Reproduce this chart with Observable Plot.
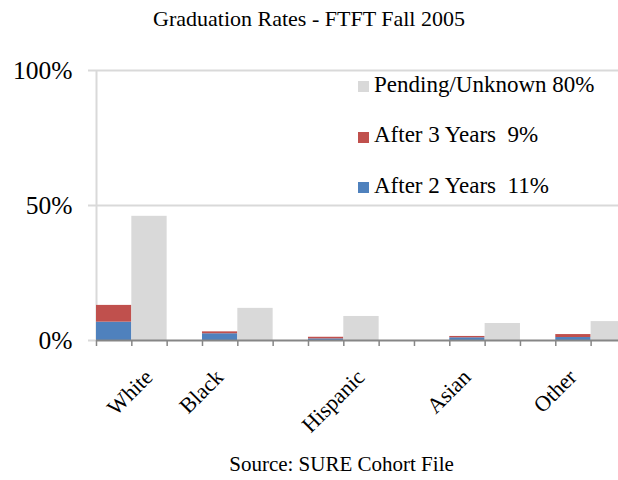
<!DOCTYPE html>
<html>
<head>
<meta charset="utf-8">
<script src="https://cdn.jsdelivr.net/npm/d3@7"></script>
<script src="https://cdn.jsdelivr.net/npm/@observablehq/plot@0.6"></script>
<style>
  html, body { margin: 0; padding: 0; background: #fff; }
  #wrap { position: relative; width: 618px; height: 480px; overflow: hidden; font-family: "Liberation Serif", serif; color: #000; }
  #title { height: 40px; box-sizing: border-box; padding-top: 8px; text-align: center; font-size: 22px; line-height: 22px; }
  #chart { height: 400px; }
  #caption { text-align: center; font-size: 21px; line-height: 21px; margin-top: 14px; padding-left: 65px; }
  .lg-sw { position: absolute; width: 11px; height: 11px; }
  .lg-tx { position: absolute; font-size: 23px; line-height: 23px; white-space: pre; }
</style>
</head>
<body>
<div id="wrap">
  <div id="title">Graduation Rates - FTFT Fall 2005</div>
  <div id="chart"></div>
  <div id="caption">Source: SURE Cohort File</div>
</div>
<script>
// ---- data ----
const categories = ["White", "Black", "Hispanic", "Asian", "Other"];
const after2Years = [6.8, 2.5, 0.6, 1.0, 1.1];
const after3Years = [6.2, 0.7, 0.6, 0.5, 1.1];
const pendingUnknown = [46.0, 11.9, 8.9, 6.3, 7.0];
// category-axis slots (Excel layout with blank categories between groups)
const stackSlots = [0, 3, 6, 10, 13];
const labelSlots = [1, 3, 7, 10, 13];
const slotCount = 15;
const seriesNames = ["Pending/Unknown", "After 3 Years", "After 2 Years"];
const legendLabels = ["Pending/Unknown 80%", "After 3 Years  9%", "After 2 Years  11%"];
const seriesColors = ["#D9D9D9", "#C0504D", "#4F81BD"];
const yTicks = [0, 50, 100];

// ---- table for the bars ----
const bars = categories.flatMap((c, i) => [
  {category: c, series: "After 2 Years", x1: stackSlots[i], x2: stackSlots[i] + 1, y1: 0, y2: after2Years[i]},
  {category: c, series: "After 3 Years", x1: stackSlots[i], x2: stackSlots[i] + 1, y1: after2Years[i], y2: after2Years[i] + after3Years[i]},
  {category: c, series: "Pending/Unknown", x1: stackSlots[i] + 1, x2: stackSlots[i] + 2, y1: 0, y2: pendingUnknown[i]}
]);

const slotWidth = 35.33;
const left = 96;

const chart = Plot.plot({
  width: 618,
  height: 400,
  marginTop: 30,
  marginBottom: 100,
  marginLeft: left,
  marginRight: 0,
  style: {fontFamily: "'Liberation Serif', serif", color: "black", background: "white", overflow: "hidden"},
  x: {type: "linear", domain: [0, slotCount], range: [left, left + slotCount * slotWidth], axis: null},
  y: {domain: [0, 100], axis: null},
  color: {domain: seriesNames, range: seriesColors},
  marks: [
    Plot.ruleY([50, 100], {stroke: "#D9D9D9", strokeWidth: 2}),
    Plot.axisY({ticks: yTicks, tickSize: 8, tickPadding: 16, tickFormat: d => d + "%", stroke: "#D9D9D9", strokeWidth: 2, fill: "black", fontSize: 25.5}),
    Plot.ruleX([0], {y1: 0, y2: 100, stroke: "#D9D9D9", strokeWidth: 2}),
    Plot.rect(bars, {x1: "x1", x2: "x2", y1: "y1", y2: "y2", fill: "series"}),
    Plot.ruleY([0], {stroke: "#868686", strokeWidth: 2}),
    Plot.axisX({ticks: d3.range(slotCount + 1), tickSize: 6, tickFormat: () => "", stroke: "#868686", strokeWidth: 1.5}),
    Plot.text(categories, {
      x: (d, i) => labelSlots[i] + 0.5,
      y: () => 0,
      text: d => d,
      rotate: -45,
      textAnchor: "end",
      dx: -0.5,
      dy: 33,
      fontSize: 22,
      fill: "black"
    })
  ]
});
document.getElementById("chart").appendChild(chart);

// ---- legend (HTML overlay inside the plot area) ----
const wrap = document.getElementById("wrap");
legendLabels.forEach((label, i) => {
  const sw = document.createElement("div");
  sw.className = "lg-sw";
  sw.style.left = "358px";
  sw.style.top = (81 + 50.5 * i) + "px";
  sw.style.background = seriesColors[i];
  wrap.appendChild(sw);
  const tx = document.createElement("div");
  tx.className = "lg-tx";
  tx.style.left = "374px";
  tx.style.top = (72.7 + 50.5 * i) + "px";
  tx.textContent = label;
  wrap.appendChild(tx);
});
</script>
</body>
</html>
